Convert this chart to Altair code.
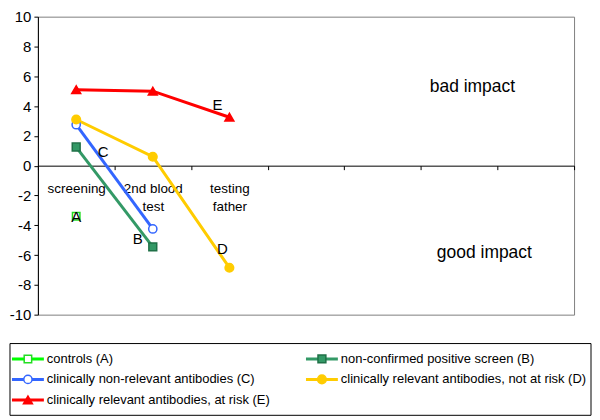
import altair as alt
import pandas as pd

# ---------------- data ----------------
series = [
    "controls (A)",
    "non-confirmed positive screen (B)",
    "clinically non-relevant antibodies (C)",
    "clinically relevant antibodies, not at risk (D)",
    "clinically relevant antibodies, at risk (E)",
]
letters = ["A", "B", "C", "D", "E"]
stages = ["screening", "2nd blood test", "testing father"]
empty_bands = [" ", "  ", "   ", "    "]

a_vals = [-3.4]
b_vals = [1.25, -5.45]
c_vals = [2.75, -4.25]
d_vals = [3.1, 0.6, -6.85]
e_vals = [5.1, 5.0, 3.25]

# letter annotations: which point of the series they sit next to
letter_anchor = ["screening", "2nd blood test", "screening", "testing father", "testing father"]

impact_text = ["bad impact", "good impact"]
impact_value = [5.3, -5.85]

# ---------------- tables ----------------
rows = []
for name, vals in zip(series, [a_vals, b_vals, c_vals, d_vals, e_vals]):
    for st, v in zip(stages, vals):
        rows.append({"series": name, "stage": st, "value": v})
df = pd.DataFrame(rows)

lab_rows = []
for name, let, anc in zip(series, letters, letter_anchor):
    v = df[(df.series == name) & (df.stage == anc)].value.iloc[0]
    lab_rows.append({"series": name, "letter": let, "stage": anc, "value": v})
lab_df = pd.DataFrame(lab_rows)

imp_df = pd.DataFrame({"text": impact_text, "value": impact_value})

legend_df = pd.DataFrame({
    "series": series,
    "col": [i % 2 for i in range(len(series))],
    "row": [i // 2 for i in range(len(series))],
})

# ---------------- styles ----------------
FONT = "Liberation Sans"
line_colors = ["#00ff00", "#339966", "#3366ff", "#ffcc00", "#ff0000"]
marker_stroke = ["#22dd22", "#1f7047", "#3366ff", "#ffcc00", "#ff0000"]
marker_fill = ["#ffffff", "#339966", "#ffffff", "#ffcc00", "#ff0000"]
shapes = ["square", "square", "circle", "circle", "triangle-up"]
sizes = [56, 81, 64, 100, 110]
line_widths = [3, 3, 2, 3.5, 2]

color_sc = alt.Scale(domain=series, range=line_colors)
stroke_sc = alt.Scale(domain=series, range=marker_stroke)
fill_sc = alt.Scale(domain=series, range=marker_fill)
shape_sc = alt.Scale(domain=series, range=shapes)
size_sc = alt.Scale(domain=series, range=sizes)
sw_sc = alt.Scale(domain=series, range=line_widths)

W, H = 538, 299
Y_MIN, Y_MAX = -10, 10
zero_pos = H * Y_MAX / (Y_MAX - Y_MIN)  # pixel row of value 0 inside the plot
x_axis_offset = zero_pos - H            # lift bottom axis up to the zero line

label_expr = (
    "datum.value == '2nd blood test' ? ['2nd blood', 'test'] : "
    "datum.value == 'testing father' ? ['testing', 'father'] : datum.label"
)

x_enc = alt.X(
    "stage:N",
    scale=alt.Scale(domain=stages + empty_bands, paddingInner=0, paddingOuter=0),
    axis=alt.Axis(
        title=None, offset=x_axis_offset, tickBand="extent",
        labelExpr=label_expr, labelAngle=0, labelFontSize=13.5, labelFont=FONT,
        labelLineHeight=18, labelPadding=12, labelBaseline="top", tickSize=4,
        domainColor="black", tickColor="black", labelColor="black",
        labelOverlap=False,
    ),
)
y_enc = alt.Y(
    "value:Q",
    scale=alt.Scale(domain=[Y_MIN, Y_MAX], nice=False),
    axis=alt.Axis(
        title=None, values=list(range(Y_MIN, Y_MAX + 1, 2)), grid=False, tickSize=4,
        labelPadding=3, domainColor="black", tickColor="black",
        labelColor="black", labelFontSize=15, labelFont=FONT,
        labelExpr="'' + datum.value",
        labelOverlap=False, labelFlush=False, labelSeparation=0,
    ),
)

lines = alt.Chart(df).mark_line().encode(
    color=alt.Color("series:N", scale=color_sc, legend=None),
    strokeWidth=alt.StrokeWidth("series:N", scale=sw_sc, legend=None),
    detail="series:N",
)
points = alt.Chart(df).mark_point(opacity=1, fillOpacity=1, strokeWidth=1.5).encode(
    stroke=alt.Stroke("series:N", scale=stroke_sc, legend=None),
    fill=alt.Fill("series:N", scale=fill_sc, legend=None),
    shape=alt.Shape("series:N", scale=shape_sc, legend=None),
    size=alt.Size("series:N", scale=size_sc, legend=None),
)

offsets = {"A": (0, 1), "B": (-15, -8), "C": (27, 27), "D": (-7, -19), "E": (-12, -12)}
letter_layers = []
for let in letters:
    dx, dy = offsets[let]
    letter_layers.append(
        alt.Chart(lab_df).transform_filter(alt.datum.letter == let)
        .mark_text(dx=dx, dy=dy, fontSize=15, font=FONT, color="black")
        .encode(text="letter:N")
    )

bad = alt.Chart(imp_df).transform_filter(alt.datum.text == "bad impact").mark_text(
    fontSize=17.5, font=FONT, color="black"
).encode(x=alt.value(436), text="text:N")
good = alt.Chart(imp_df).transform_filter(alt.datum.text == "good impact").mark_text(
    fontSize=17.5, font=FONT, color="black"
).encode(x=alt.value(448), text="text:N")

main = alt.layer(lines, points, *letter_layers, bad, good).encode(
    x=x_enc, y=y_enc
).properties(
    width=W, height=H, view=alt.ViewBackground(stroke="#808080", strokeWidth=1)
)

# ---------------- legend panel ----------------
LH = 72
lbase = alt.Chart(legend_df).encode(
    x=alt.X("col:Q", scale=alt.Scale(domain=[0, 1], range=[-26, 269], nice=False, zero=False), axis=None),
    y=alt.Y("row:O", scale=alt.Scale(padding=0.5), axis=None),
)
lrule = lbase.mark_rule(xOffset=0, x2Offset=32).encode(
    x2="col:Q",
    color=alt.Color("series:N", scale=color_sc, legend=None),
    strokeWidth=alt.StrokeWidth("series:N", scale=sw_sc, legend=None),
)
lpts = lbase.mark_point(opacity=1, fillOpacity=1, strokeWidth=1.5, xOffset=16).encode(
    stroke=alt.Stroke("series:N", scale=stroke_sc, legend=None),
    fill=alt.Fill("series:N", scale=fill_sc, legend=None),
    shape=alt.Shape("series:N", scale=shape_sc, legend=None),
    size=alt.Size("series:N", scale=size_sc, legend=None),
)
ltxt = lbase.mark_text(align="left", xOffset=35, fontSize=13, font=FONT, color="black").encode(
    text="series:N"
)
# frame around the legend entries
lframe = alt.Chart(legend_df.head(1)).mark_rect(
    fill="transparent", stroke="black", strokeWidth=1
).encode(x=alt.value(-28), x2=alt.value(555), y=alt.value(0), y2=alt.value(LH))

legend = alt.layer(lframe, lrule, lpts, ltxt).properties(
    width=W, height=LH, view=alt.ViewBackground(stroke="transparent")
)

chart = alt.vconcat(main, legend, spacing=19).properties(
    padding={"left": 0, "top": 0, "right": 0, "bottom": 0}
).configure(font=FONT).configure_axis(labelOverlap=False)

chart.save("out.html", embed_options={"renderer": "svg", "actions": False})
